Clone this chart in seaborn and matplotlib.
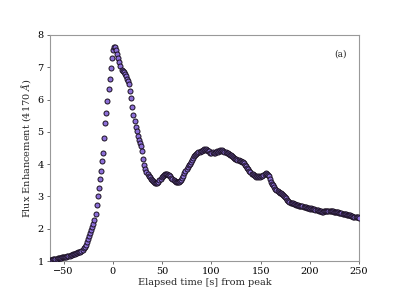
import pandas as pd
import seaborn as sns
import matplotlib.pyplot as plt

# light curve (time in s from peak, flux enhancement)
time_s = [
    -63.8, -62.7, -61.6, -60.5, -59.4, -58.3, -57.2, -56.1, -55.0, -53.9,
    -52.8, -51.7, -50.6, -49.5, -48.4, -47.3, -46.2, -45.1, -44.0, -42.9,
    -41.8, -40.7, -39.6, -38.5, -37.4, -36.3, -35.2, -34.1, -33.0, -31.9,
    -30.8, -29.7, -28.6, -27.5, -26.4, -25.3, -24.2, -23.1, -22.0, -20.9,
    -19.8, -18.7, -17.6, -16.5, -15.4, -14.3, -13.2, -12.1, -11.0, -9.9,
    -8.8, -7.7, -6.6, -5.5, -4.4, -3.3, -2.2, -1.1, 0.0, 1.1,
    2.2, 3.3, 4.4, 5.5, 6.6, 7.7, 8.8, 9.9, 11.0, 12.1,
    13.2, 14.3, 15.4, 16.5, 17.6, 18.7, 19.8, 20.9, 22.0, 23.1,
    24.2, 25.3, 26.4, 27.5, 28.6, 29.7, 30.8, 31.9, 33.0, 34.1,
    35.2, 36.3, 37.4, 38.5, 39.6, 40.7, 41.8, 42.9, 44.0, 45.1,
    46.2, 47.3, 48.4, 49.5, 50.6, 51.7, 52.8, 53.9, 55.0, 56.1,
    57.2, 58.3, 59.4, 60.5, 61.6, 62.7, 63.8, 64.9, 66.0, 67.1,
    68.2, 69.3, 70.4, 71.5, 72.6, 73.7, 74.8, 75.9, 77.0, 78.1,
    79.2, 80.3, 81.4, 82.5, 83.6, 84.7, 85.8, 86.9, 88.0, 89.1,
    90.2, 91.3, 92.4, 93.5, 94.6, 95.7, 96.8, 97.9, 99.0, 100.1,
    101.2, 102.3, 103.4, 104.5, 105.6, 106.7, 107.8, 108.9, 110.0, 111.1,
    112.2, 113.3, 114.4, 115.5, 116.6, 117.7, 118.8, 119.9, 121.0, 122.1,
    123.2, 124.3, 125.4, 126.5, 127.6, 128.7, 129.8, 130.9, 132.0, 133.1,
    134.2, 135.3, 136.4, 137.5, 138.6, 139.7, 140.8, 141.9, 143.0, 144.1,
    145.2, 146.3, 147.4, 148.5, 149.6, 150.7, 151.8, 152.9, 154.0, 155.1,
    156.2, 157.3, 158.4, 159.5, 160.6, 161.7, 162.8, 163.9, 165.0, 166.1,
    167.2, 168.3, 169.4, 170.5, 171.6, 172.7, 173.8, 174.9, 176.0, 177.1,
    178.2, 179.3, 180.4, 181.5, 182.6, 183.7, 184.8, 185.9, 187.0, 188.1,
    189.2, 190.3, 191.4, 192.5, 193.6, 194.7, 195.8, 196.9, 198.0, 199.1,
    200.2, 201.3, 202.4, 203.5, 204.6, 205.7, 206.8, 207.9, 209.0, 210.1,
    211.2, 212.3, 213.4, 214.5, 215.6, 216.7, 217.8, 218.9, 220.0, 221.1,
    222.2, 223.3, 224.4, 225.5, 226.6, 227.7, 228.8, 229.9, 231.0, 232.1,
    233.2, 234.3, 235.4, 236.5, 237.6, 238.7, 239.8, 240.9, 242.0, 243.1,
    244.2, 245.3, 246.4, 247.5, 248.6, 249.7,
]
flux = [
    1.03, 1.04, 1.04, 1.05, 1.06, 1.06, 1.07, 1.08, 1.09, 1.09,
    1.10, 1.11, 1.12, 1.13, 1.13, 1.14, 1.16, 1.16, 1.17, 1.18,
    1.19, 1.21, 1.21, 1.23, 1.24, 1.25, 1.27, 1.28, 1.29, 1.31,
    1.35, 1.40, 1.44, 1.50, 1.58, 1.68, 1.76, 1.86, 1.96, 2.05,
    2.15, 2.27, 2.46, 2.72, 3.00, 3.25, 3.54, 3.80, 4.10, 4.35,
    4.80, 5.28, 5.58, 5.95, 6.32, 6.65, 6.98, 7.30, 7.55, 7.62,
    7.62, 7.52, 7.40, 7.28, 7.17, 7.04, 6.93, 6.88, 6.85, 6.78,
    6.72, 6.64, 6.56, 6.47, 6.28, 6.05, 5.76, 5.52, 5.34, 5.14,
    5.02, 4.86, 4.76, 4.66, 4.55, 4.40, 4.15, 3.96, 3.85, 3.76,
    3.69, 3.63, 3.59, 3.55, 3.52, 3.48, 3.45, 3.43, 3.41, 3.41,
    3.45, 3.50, 3.55, 3.59, 3.63, 3.66, 3.68, 3.69, 3.69, 3.67,
    3.65, 3.62, 3.58, 3.54, 3.50, 3.47, 3.45, 3.44, 3.44, 3.45,
    3.47, 3.51, 3.56, 3.64, 3.72, 3.80, 3.86, 3.92, 3.98, 4.02,
    4.07, 4.13, 4.18, 4.24, 4.28, 4.31, 4.35, 4.37, 4.38, 4.42,
    4.40, 4.44, 4.46, 4.43, 4.47, 4.45, 4.40, 4.42, 4.36, 4.34,
    4.37, 4.33, 4.36, 4.38, 4.41, 4.39, 4.42, 4.44, 4.41, 4.43,
    4.40, 4.38, 4.39, 4.35, 4.33, 4.31, 4.28, 4.27, 4.24, 4.22,
    4.18, 4.17, 4.15, 4.13, 4.12, 4.10, 4.11, 4.08, 4.06, 4.03,
    3.98, 3.93, 3.88, 3.85, 3.80, 3.75, 3.71, 3.68, 3.65, 3.62,
    3.61, 3.62, 3.60, 3.62, 3.61, 3.64, 3.62, 3.66, 3.70, 3.72,
    3.68, 3.67, 3.62, 3.55, 3.46, 3.40, 3.34, 3.28, 3.24, 3.20,
    3.17, 3.14, 3.12, 3.10, 3.08, 3.05, 3.02, 2.99, 2.94, 2.89,
    2.85, 2.82, 2.81, 2.79, 2.79, 2.77, 2.76, 2.74, 2.74, 2.73,
    2.71, 2.71, 2.69, 2.69, 2.68, 2.66, 2.67, 2.65, 2.64, 2.64,
    2.62, 2.63, 2.61, 2.60, 2.60, 2.58, 2.58, 2.57, 2.56, 2.55,
    2.55, 2.53, 2.52, 2.54, 2.55, 2.56, 2.55, 2.56, 2.55, 2.56,
    2.54, 2.54, 2.53, 2.53, 2.52, 2.52, 2.51, 2.50, 2.49, 2.48,
    2.47, 2.46, 2.45, 2.45, 2.43, 2.42, 2.41, 2.41, 2.39, 2.39,
    2.37, 2.37, 2.36, 2.35, 2.35, 2.34,
]
x_ticks = [-50, 0, 50, 100, 150, 200, 250]
y_ticks = [1, 2, 3, 4, 5, 6, 7, 8]


def main():
    df = pd.DataFrame({'time': time_s, 'flux': flux})

    sns.set_theme(style='ticks')
    plt.rcParams['font.family'] = ['DejaVu Serif']
    plt.rcParams['mathtext.fontset'] = 'dejavuserif'

    fig = plt.figure(figsize=(3.99, 2.99), dpi=100)
    ax = fig.add_axes([0.125, 0.127, 0.775, 0.756])
    sns.scatterplot(
        data=df, x='time', y='flux', ax=ax,
        color='#8c6fd8', edgecolor='#1a1020', linewidth=0.7,
        s=13, zorder=3, legend=False)

    ax.set_xlim(-64, 250)
    ax.set_ylim(1, 8)
    ax.set_xticks(x_ticks)
    ax.set_yticks(y_ticks)
    ax.tick_params(labelsize=7, length=2.5, width=0.6, colors='#555555',
                   labelcolor='black', pad=2)
    for sp in ax.spines.values():
        sp.set_color('#999999')
        sp.set_linewidth(0.8)

    ax.set_xlabel('Elapsed time [s] from peak', fontsize=7, labelpad=1)
    ax.set_ylabel('Flux Enhancement (4170 $Å$)', fontsize=7, labelpad=3)
    ax.text(0.94, 0.915, '(a)', transform=ax.transAxes, fontsize=6.5,
            ha='center', va='center')

    fig.savefig('out.png', dpi=100)


main()
